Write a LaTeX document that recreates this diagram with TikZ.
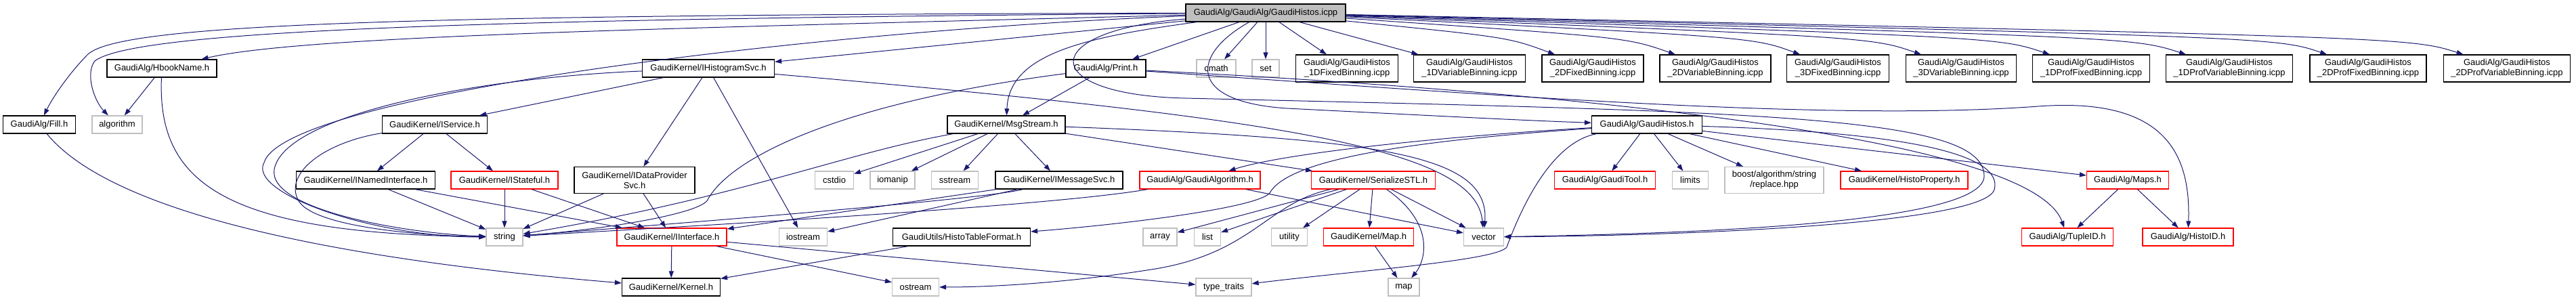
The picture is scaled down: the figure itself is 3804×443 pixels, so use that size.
\documentclass[tikz,border=0pt]{standalone}
\usepackage{fontspec}
\setmainfont{Liberation Sans}
\usetikzlibrary{arrows.meta}
\definecolor{edgeblue}{HTML}{191970}
\definecolor{sysgray}{HTML}{BFBFBF}
\begin{document}
\begin{tikzpicture}[x=1pt, y=-1pt,
  hdrbox/.style={draw=black, fill=white, line width=1.2pt, inner sep=0pt, minimum height=26pt, align=center, font=\fontsize{13}{15}\selectfont},
  sysbox/.style={hdrbox, draw=sysgray},
  redbox/.style={hdrbox, draw=red},
  rootbox/.style={hdrbox, fill=sysgray},
  tallbox/.style={minimum height=40pt},
  incl/.style={color=edgeblue, line width=1pt, -{Triangle[length=10pt,width=7pt]}}]
  \useasboundingbox (0,0) rectangle (3804,443);

  \node[rootbox, minimum width=236pt] (root) at (1869,19) {GaudiAlg/GaudiAlg/GaudiHistos.icpp};

  \node[hdrbox, minimum width=162pt] (hbook) at (239,101) {GaudiAlg/HbookName.h};
  \node[hdrbox, minimum width=195pt] (ihsvc) at (1046,101) {GaudiKernel/IHistogramSvc.h};
  \node[hdrbox, minimum width=118pt] (print) at (1633,101) {GaudiAlg/Print.h};
  \node[sysbox, minimum width=58pt] (cmath) at (1796,101) {cmath};
  \node[sysbox, minimum width=40pt] (set) at (1869,101) {set};
  \node[hdrbox, tallbox, minimum width=151pt] (f1d) at (1989,101) {GaudiAlg/GaudiHistos\\\_1DFixedBinning.icpp};
  \node[hdrbox, tallbox, minimum width=165pt] (v1d) at (2170,101) {GaudiAlg/GaudiHistos\\\_1DVariableBinning.icpp};
  \node[hdrbox, tallbox, minimum width=150pt] (f2d) at (2352,101) {GaudiAlg/GaudiHistos\\\_2DFixedBinning.icpp};
  \node[hdrbox, tallbox, minimum width=164pt] (v2d) at (2533,101) {GaudiAlg/GaudiHistos\\\_2DVariableBinning.icpp};
  \node[hdrbox, tallbox, minimum width=151pt] (f3d) at (2714,101) {GaudiAlg/GaudiHistos\\\_3DFixedBinning.icpp};
  \node[hdrbox, tallbox, minimum width=163pt] (v3d) at (2896,101) {GaudiAlg/GaudiHistos\\\_3DVariableBinning.icpp};
  \node[hdrbox, tallbox, minimum width=173pt] (pf1d) at (3088,101) {GaudiAlg/GaudiHistos\\\_1DProfFixedBinning.icpp};
  \node[hdrbox, tallbox, minimum width=187pt] (pv1d) at (3292,101) {GaudiAlg/GaudiHistos\\\_1DProfVariableBinning.icpp};
  \node[hdrbox, tallbox, minimum width=172pt] (pf2d) at (3497,101) {GaudiAlg/GaudiHistos\\\_2DProfFixedBinning.icpp};
  \node[hdrbox, tallbox, minimum width=187pt] (pv2d) at (3702,101) {GaudiAlg/GaudiHistos\\\_2DProfVariableBinning.icpp};

  \node[hdrbox, minimum width=107pt] (fill) at (58,184) {GaudiAlg/Fill.h};
  \node[sysbox, minimum width=74pt] (algo) at (173,184) {algorithm};
  \node[hdrbox, minimum width=155pt] (isvc) at (642,184) {GaudiKernel/IService.h};
  \node[hdrbox, minimum width=174pt] (msg) at (1486,184) {GaudiKernel/MsgStream.h};
  \node[hdrbox, minimum width=163pt] (ghh) at (2432,184) {GaudiAlg/GaudiHistos.h};

  \node[hdrbox, minimum width=205pt] (inamed) at (540,266) {GaudiKernel/INamedInterface.h};
  \node[redbox, minimum width=158pt] (istate) at (745,266) {GaudiKernel/IStateful.h};
  \node[hdrbox, minimum width=178pt, minimum height=39pt] (idp) at (937,266) {GaudiKernel/IDataProvider\\Svc.h};
  \node[sysbox, minimum width=57pt] (cstdio) at (1232,266) {cstdio};
  \node[sysbox, minimum width=66pt] (iomanip) at (1318,266) {iomanip};
  \node[sysbox, minimum width=69pt] (sstream) at (1410,266) {sstream};
  \node[hdrbox, minimum width=188pt] (imsg) at (1564,266) {GaudiKernel/IMessageSvc.h};
  \node[redbox, minimum width=178pt] (galgo) at (1772,266) {GaudiAlg/GaudiAlgorithm.h};
  \node[redbox, minimum width=183pt] (ser) at (2028,266) {GaudiKernel/SerializeSTL.h};
  \node[redbox, minimum width=149pt] (gtool) at (2370,266) {GaudiAlg/GaudiTool.h};
  \node[sysbox, minimum width=53pt] (limits) at (2496,266) {limits};
  \node[sysbox, minimum width=146pt, minimum height=39pt] (boost) at (2620,266) {boost/algorithm/string\\/replace.hpp};
  \node[redbox, minimum width=188pt] (hprop) at (2812,266) {GaudiKernel/HistoProperty.h};
  \node[redbox, minimum width=121pt] (maps) at (3142,266) {GaudiAlg/Maps.h};

  \node[sysbox, minimum width=54pt] (string) at (745,350) {string};
  \node[redbox, minimum width=162pt] (iif) at (992,350) {GaudiKernel/IInterface.h};
  \node[sysbox, minimum width=71pt] (iostream) at (1186,350) {iostream};
  \node[hdrbox, minimum width=203pt] (htf) at (1420,350) {GaudiUtils/HistoTableFormat.h};
  \node[sysbox, minimum width=50pt] (array) at (1713,350) {array};
  \node[sysbox, minimum width=39pt] (list) at (1783,350) {list};
  \node[sysbox, minimum width=53pt] (utility) at (1904,350) {utility};
  \node[redbox, minimum width=133pt] (mapH) at (2021,350) {GaudiKernel/Map.h};
  \node[sysbox, minimum width=59pt] (vector) at (2191,350) {vector};
  \node[redbox, minimum width=135pt] (tuple) at (3053,350) {GaudiAlg/TupleID.h};
  \node[redbox, minimum width=134pt] (histoid) at (3231,350) {GaudiAlg/HistoID.h};

  \node[hdrbox, minimum width=145pt] (kernel) at (991,424) {GaudiKernel/Kernel.h};
  \node[sysbox, minimum width=69pt] (ostream) at (1352,424) {ostream};
  \node[sysbox, minimum width=82pt] (ttraits) at (1807,424) {type\_traits};
  \node[sysbox, minimum width=46pt] (map) at (2073,424) {map};

  \path[incl] (root) edge (ihsvc);
  \path[incl] (root) edge (print);
  \path[incl] (root) edge (cmath);
  \path[incl] (root) edge (set);
  \path[incl] (root) edge (f1d);
  \path[incl] (root) edge (v1d);
  \draw[incl] (root) .. controls (2227,55) .. (f2d);
  \draw[incl] (root) .. controls (2401,55) .. (v2d);
  \draw[incl] (root) .. controls (2589,55) .. (f3d);
  \draw[incl] (root) .. controls (2764,55) .. (v3d);
  \draw[incl] (root) .. controls (2951,55) .. (pf1d);
  \draw[incl] (root) .. controls (3149,55) .. (pv1d);
  \draw[incl] (root) .. controls (3361,55) .. (pf2d);
  \draw[incl] (root) .. controls (3558,55) .. (pv2d);
  \draw[incl] (root) .. controls (600,22) and (180,35) .. (130,80) .. controls (105,105) and (80,140) .. (fill);
  \draw[incl] (root) .. controls (700,28) and (200,45) .. (140,90) .. controls (125,110) and (140,150) .. (algo);
  \draw[incl] (root) .. controls (1000,42) and (450,52) .. (hbook);
  \draw[incl] (root) .. controls (1200,45) and (420,140) .. (390,240) .. controls (365,285) and (550,350) .. (string);
  \draw[incl] (root) .. controls (1600,55) and (1490,80) .. (msg);
  \draw[incl] (root) .. controls (1760,80) and (1750,150) .. (1900,160) .. controls (2100,170) and (2250,178) .. (ghh);
  \draw[incl] (root) .. controls (1530,45) and (1530,140) .. (1750,145) .. controls (2600,165) and (2930,170) .. (2930,260) .. controls (2930,330) and (2500,345) .. (vector);

  \path[incl] (hbook) edge (algo);
  \draw[incl] (hbook) .. controls (232,270) and (330,345) .. (string);
  \draw[incl] (fill) .. controls (170,320) and (520,385) .. (kernel);

  \path[incl] (ihsvc) edge (isvc);
  \path[incl] (ihsvc) edge (idp);
  \path[incl] (ihsvc) edge (iostream);
  \draw[incl] (ihsvc) .. controls (700,115) and (420,170) .. (405,250) .. controls (395,310) and (600,345) .. (string);
  \draw[incl] (ihsvc) .. controls (1900,175) and (2180,220) .. (vector);

  \path[incl] (print) edge (msg);
  \draw[incl] (print) .. controls (1250,150) and (1080,230) .. (1045,295) .. controls (1035,315) and (900,338) .. (string);
  \draw[incl] (print) .. controls (2300,135) and (3000,200) .. (tuple);
  \draw[incl] (print) .. controls (2200,140) and (2700,180) .. (3010,157) .. controls (3200,143) and (3235,230) .. (histoid);

  \path[incl] (isvc) edge (inamed);
  \path[incl] (isvc) edge (istate);
  \draw[incl] (isvc) .. controls (480,210) and (420,255) .. (440,295) .. controls (460,335) and (620,348) .. (string);

  \path[incl] (inamed) edge (string);
  \path[incl] (inamed) edge (iif);
  \path[incl] (istate) edge (string);
  \path[incl] (istate) edge (iif);
  \path[incl] (idp) edge (string);
  \path[incl] (idp) edge (iif);

  \path[incl] (msg) edge (cstdio);
  \path[incl] (msg) edge (iomanip);
  \path[incl] (msg) edge (sstream);
  \path[incl] (msg) edge (imsg);
  \path[incl] (msg) edge (ser);
  \draw[incl] (msg) .. controls (1250,225) and (1100,290) .. (string);
  \draw[incl] (msg) .. controls (2050,205) and (2200,230) .. (vector);

  \path[incl] (imsg) edge (iif);
  \path[incl] (imsg) edge (iostream);
  \draw[incl] (imsg) .. controls (1450,295) and (1000,330) .. (string);

  \path[incl] (galgo) edge (vector);
  \draw[incl] (galgo) .. controls (1550,305) and (1000,335) .. (string);

  \path[incl] (ser) edge (array);
  \path[incl] (ser) edge (list);
  \path[incl] (ser) edge (utility);
  \path[incl] (ser) edge (mapH);
  \path[incl] (ser) edge (vector);
  \draw[incl] (ser) .. controls (2120,330) and (2105,385) .. (map);
  \draw[incl] (ser) .. controls (1870,300) and (1850,375) .. (1700,398) .. controls (1560,420) and (1450,424) .. (ostream);

  \path[incl] (mapH) edge (map);
  \path[incl] (iif) edge (kernel);
  \path[incl] (iif) edge (ostream);
  \path[incl] (iif) edge (ttraits);
  \path[incl] (htf) edge (kernel);

  \path[incl] (ghh) edge (gtool);
  \path[incl] (ghh) edge (limits);
  \path[incl] (ghh) edge (boost);
  \path[incl] (ghh) edge (hprop);
  \path[incl] (ghh) edge (maps);
  \draw[incl] (ghh) .. controls (2150,200) and (1900,225) .. (galgo);
  \draw[incl] (ghh) .. controls (2050,210) and (1900,240) .. (1875,285) .. controls (1855,308) and (1650,332) .. (htf);
  \draw[incl] (ghh) .. controls (2290,210) and (2245,310) .. (2225,365) .. controls (2210,385) and (2000,400) .. (ttraits);
  \draw[incl] (ghh) .. controls (2800,195) and (2960,225) .. (2945,280) .. controls (2930,330) and (2500,348) .. (vector);

  \path[incl] (maps) edge (tuple);
  \path[incl] (maps) edge (histoid);
\end{tikzpicture}
\end{document}
